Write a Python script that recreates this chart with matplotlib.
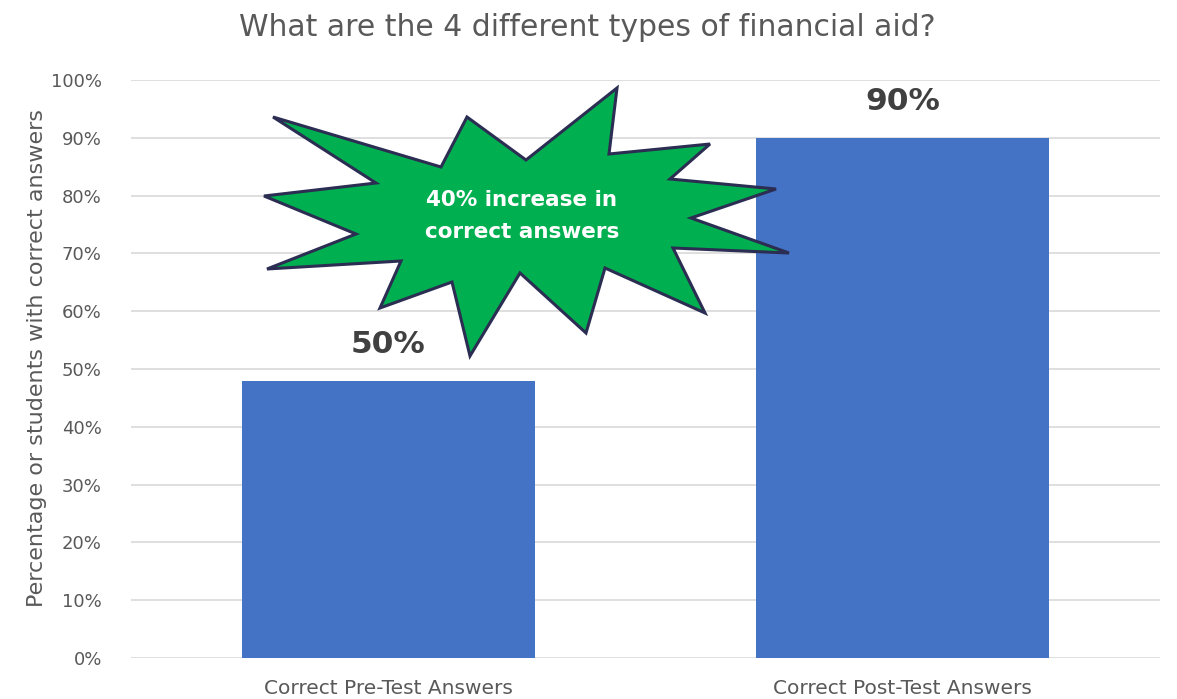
import matplotlib
matplotlib.use("Agg")
import matplotlib.pyplot as plt
from matplotlib.patches import Polygon
from matplotlib.ticker import PercentFormatter

# ---- data ----
categories = ["Correct Pre-Test Answers", "Correct Post-Test Answers"]
values = [48, 90]
value_labels = ["50%", "90%"]
title = "What are the 4 different types of financial aid?"
ylabel = "Percentage or students with correct answers"
callout = "40% increase in\ncorrect answers"
yticks = [0, 10, 20, 30, 40, 50, 60, 70, 80, 90, 100]

W, H = 1177, 699
fig = plt.figure(figsize=(W / 100, H / 100), dpi=100)
ax = fig.add_axes([131 / W, 1 - 658 / H, (1160 - 131) / W, (658 - 80) / H])

gray = "#595959"
x = list(range(len(categories)))
bars = ax.bar(x, values, width=0.57, color="#4472C4", zorder=2)
ax.set_xlim(-0.5, 1.5)
ax.set_ylim(0, 100)
ax.set_yticks(yticks)
ax.yaxis.set_major_formatter(PercentFormatter(decimals=0))
ax.set_xticks(x)
ax.set_xticklabels(categories, fontsize=14.5, color=gray)
ax.tick_params(axis="x", length=0, pad=15)
ax.tick_params(axis="y", length=0, pad=21, labelsize=13, labelcolor=gray)
ax.grid(axis="y", color="#d9d9d9", linewidth=1.2, zorder=0)
for s in ax.spines.values():
    s.set_visible(False)
ax.set_ylabel(ylabel, fontsize=16, color=gray, labelpad=8)
ax.yaxis.set_label_coords(-(131 - 47) / (1160 - 131), (658 - 358) / (658 - 80))

for b, lab in zip(bars, value_labels):
    ax.annotate(lab, (b.get_x() + b.get_width() / 2, b.get_height()),
                xytext=(0, 26), textcoords="offset points",
                ha="center", va="center", fontsize=22.5, fontweight="bold",
                color="#404040", zorder=3)

fig.text(587 / W, 1 - 27 / H, title, ha="center", va="center",
         fontsize=21.5, color=gray)

# starburst callout (figure pixel coordinates)
star_px = [(273, 117), (441, 167), (467, 117), (526, 160), (617, 88),
           (609, 154), (710, 144), (670, 179), (776, 189), (691, 218),
           (789, 253), (673, 248), (705, 313), (605, 268), (586, 333),
           (520, 273), (470, 356), (452, 282), (380, 308), (401, 261),
           (267, 269), (356, 234), (264, 196), (376, 183)]
star = Polygon([(px / W, 1 - py / H) for px, py in star_px], closed=True,
               transform=fig.transFigure, facecolor="#00B050",
               edgecolor="#2B2D52", linewidth=2.2, joinstyle="miter",
               zorder=10)
fig.add_artist(star)
fig.text(522 / W, 1 - 216 / H, callout, ha="center", va="center",
         fontsize=15.5, fontweight="bold", color="white", linespacing=1.75,
         zorder=11)

fig.savefig("out.png", dpi=100)
